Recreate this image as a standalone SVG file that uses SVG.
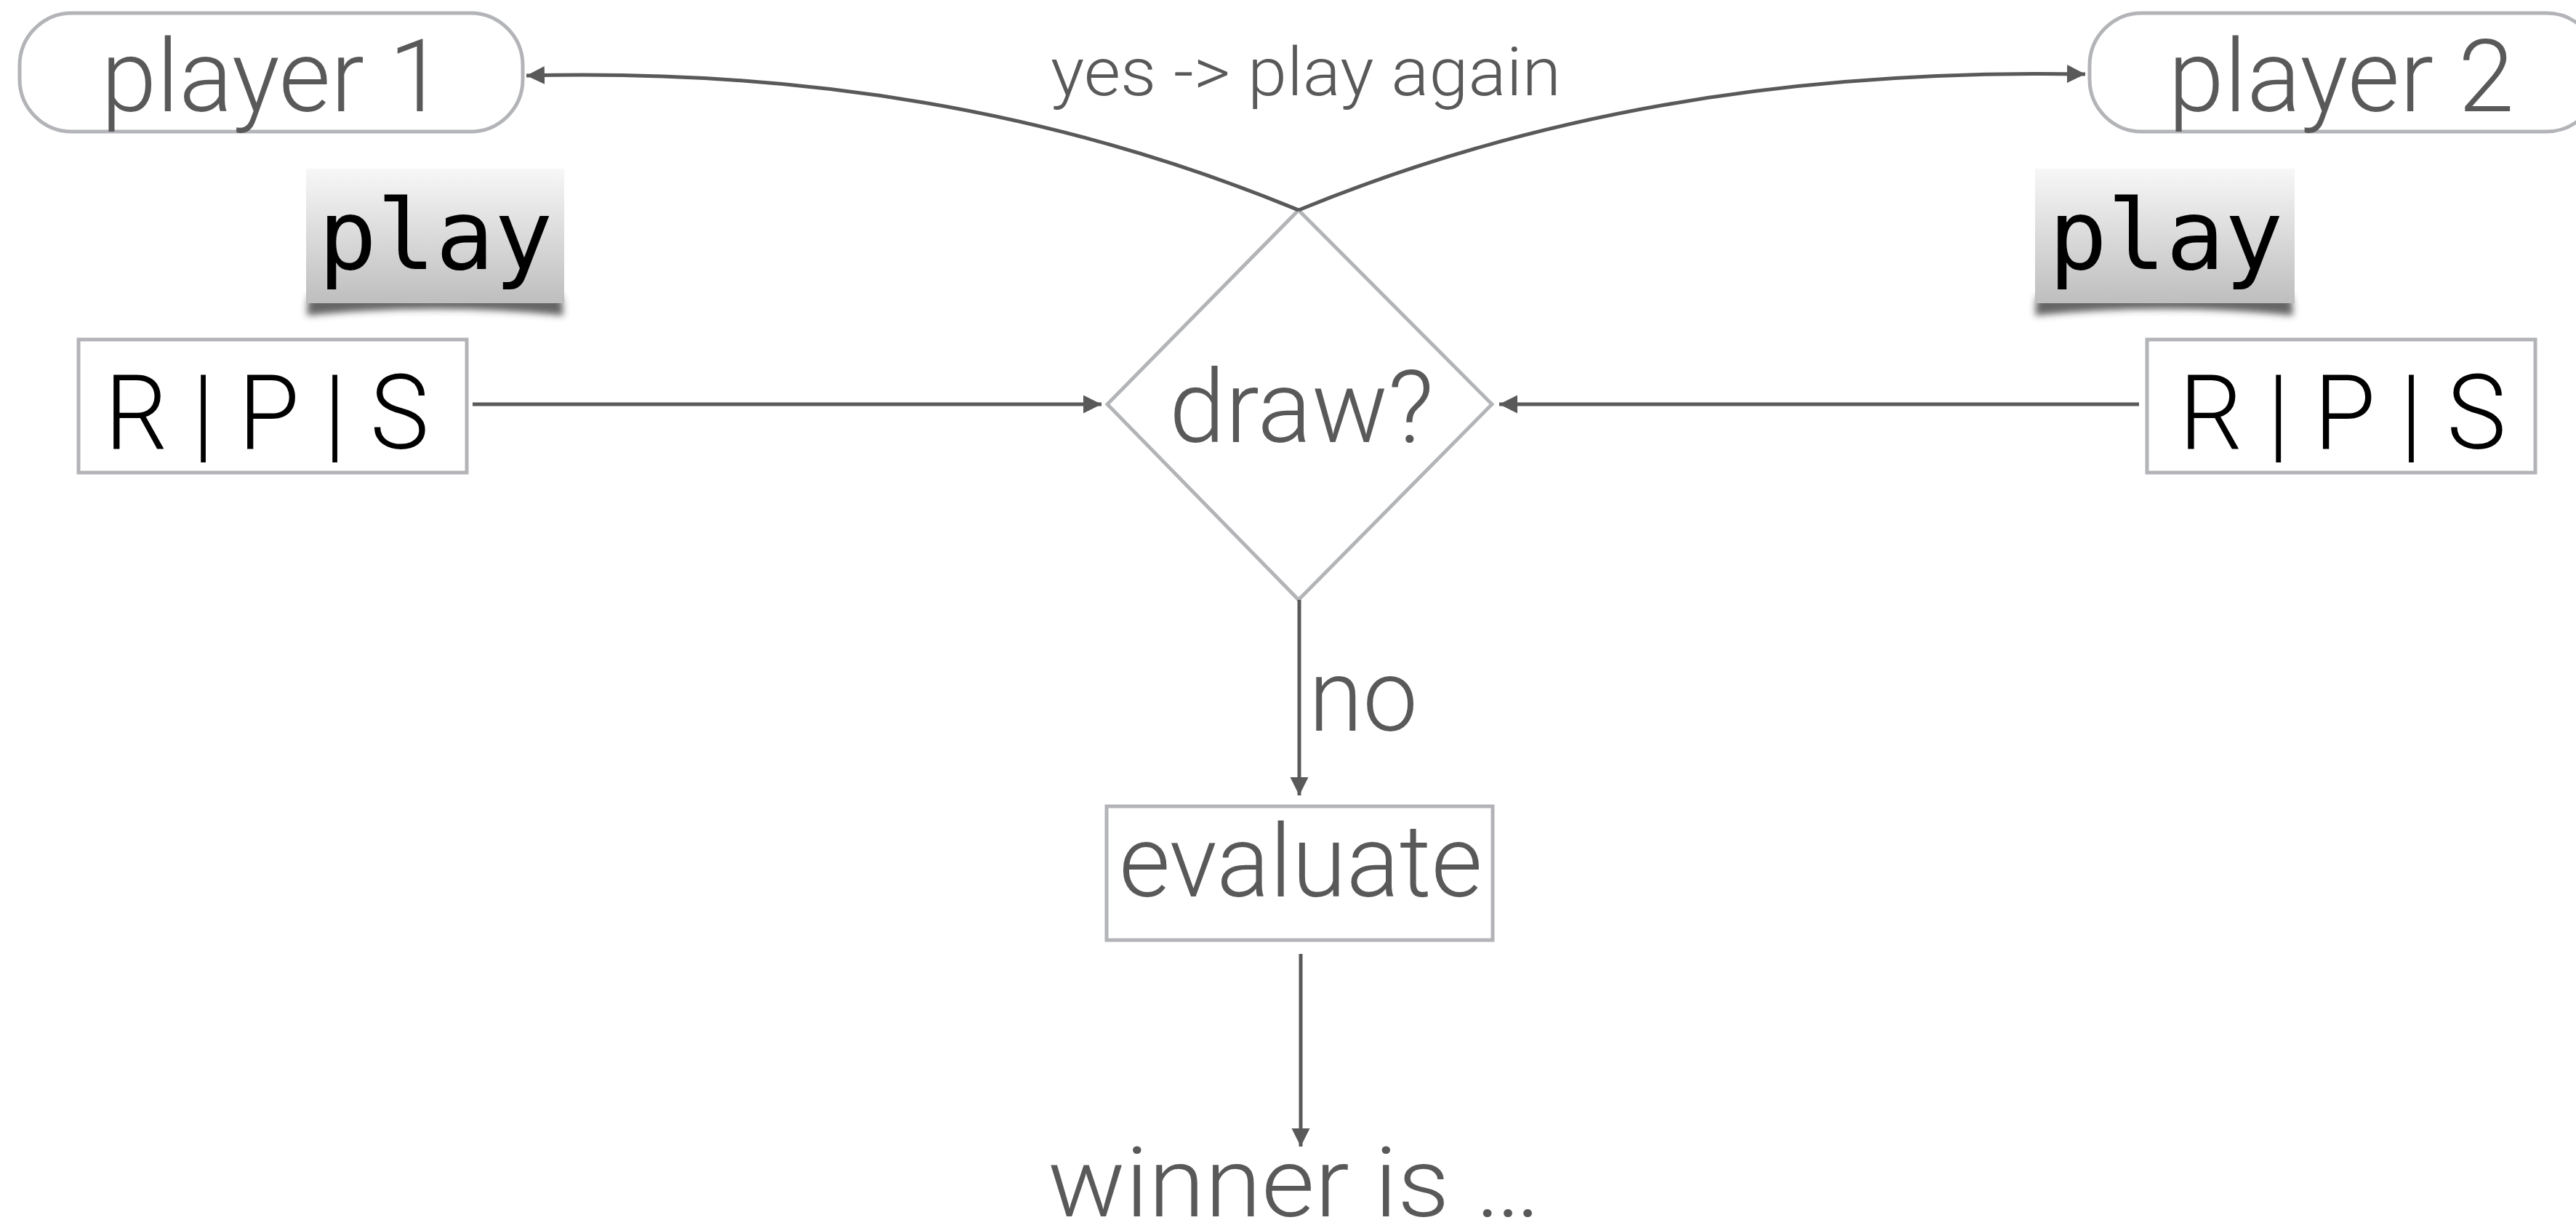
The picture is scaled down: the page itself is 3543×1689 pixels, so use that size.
<svg xmlns="http://www.w3.org/2000/svg" width="3543" height="1689" viewBox="0 0 3543 1689">
<style>
.node{fill:#fff;stroke:#b3b4b7;stroke-width:5}
.lbl{font-family:Roboto,"Liberation Sans",Arial,sans-serif;font-weight:300;fill:#595959}
.rps{font-family:Roboto,"Liberation Sans",Arial,sans-serif;font-weight:300;fill:#000}
.mono{font-family:"DejaVu Sans Mono","Liberation Mono",monospace;fill:#000}
.conn{fill:none;stroke:#595959;stroke-width:5}
</style>
<defs>
<marker id="ah" markerUnits="userSpaceOnUse" markerWidth="28" markerHeight="26" refX="25" refY="12.5" orient="auto">
<path d="M0,0 L25,12.5 L0,25 z" fill="#595959"/>
</marker>
<linearGradient id="btn" x1="0" y1="0" x2="0" y2="1">
<stop offset="0" stop-color="#f7f7f7"/>
<stop offset="1" stop-color="#bebebe"/>
</linearGradient>
<filter id="blur" x="-20%" y="-100%" width="140%" height="300%">
<feGaussianBlur stdDeviation="5"/>
</filter>
</defs>

<g id="player1">
<rect class="node" x="27" y="18" width="692" height="163" rx="72"/>
<text class="lbl" x="375" y="153" font-size="140" text-anchor="middle" textLength="472" lengthAdjust="spacingAndGlyphs">player 1</text>
</g>

<g id="player2">
<rect class="node" x="2874" y="18" width="700" height="163" rx="72"/>
<text class="lbl" x="3220" y="153" font-size="140" text-anchor="middle" textLength="476" lengthAdjust="spacingAndGlyphs">player 2</text>
</g>

<g id="play1">
<path d="M424,408 L773,408 L775,434 Q598,416 422,434 z" fill="#333" fill-opacity="0.75" filter="url(#blur)"/>
<rect x="421" y="232" width="355" height="185" fill="url(#btn)"/>
<text class="mono" x="599" y="370" font-size="134" text-anchor="middle">play</text>
</g>

<g id="play2">
<path d="M2801,408 L3152,408 L3154,434 Q2978,416 2799,434 z" fill="#333" fill-opacity="0.75" filter="url(#blur)"/>
<rect x="2799" y="232" width="357" height="185" fill="url(#btn)"/>
<text class="mono" x="2979" y="370" font-size="134" text-anchor="middle">play</text>
</g>

<g id="rps1">
<rect class="node" x="108" y="467" width="534" height="183"/>
<text class="rps" x="367" y="617" font-size="142" text-anchor="middle" textLength="446" lengthAdjust="spacingAndGlyphs">R | P | S</text>
</g>

<g id="rps2">
<rect class="node" x="2953" y="467" width="534" height="183"/>
<text class="rps" x="3222" y="617" font-size="142" text-anchor="middle" textLength="450" lengthAdjust="spacingAndGlyphs">R | P | S</text>
</g>

<g id="draw">
<polygon class="node" points="1786,289 2052,556 1786,825 1523,556"/>
<text class="lbl" x="1790" y="608" font-size="140" text-anchor="middle" textLength="364" lengthAdjust="spacingAndGlyphs">draw?</text>
</g>

<g id="evaluate">
<rect class="node" x="1522" y="1109" width="531" height="184"/>
<text class="lbl" x="1789" y="1233" font-size="140" text-anchor="middle" textLength="500" lengthAdjust="spacingAndGlyphs">evaluate</text>
</g>

<g id="winner">
<text class="lbl" x="1780" y="1673" font-size="134" text-anchor="middle" textLength="678" lengthAdjust="spacingAndGlyphs">winner is …</text>
</g>

<g id="connectors">
<line class="conn" x1="650" y1="556" x2="1515" y2="556" marker-end="url(#ah)"/>
<line class="conn" x1="2942" y1="556" x2="2062" y2="556" marker-end="url(#ah)"/>
<path class="conn" d="M1786,289 C1450,150 1100,95 724,104" marker-end="url(#ah)"/>
<path class="conn" d="M1786,289 C2100,160 2450,95 2868,102" marker-end="url(#ah)"/>
<line class="conn" x1="1787" y1="825" x2="1787" y2="1094" marker-end="url(#ah)"/>
<line class="conn" x1="1789" y1="1312" x2="1789" y2="1577" marker-end="url(#ah)"/>
<text class="lbl" x="1796" y="131" font-size="92" text-anchor="middle" textLength="702" lengthAdjust="spacingAndGlyphs">yes -&gt; play again</text>
<text class="lbl" x="1800" y="1005" font-size="140" textLength="150" lengthAdjust="spacingAndGlyphs">no</text>
</g>
</svg>
